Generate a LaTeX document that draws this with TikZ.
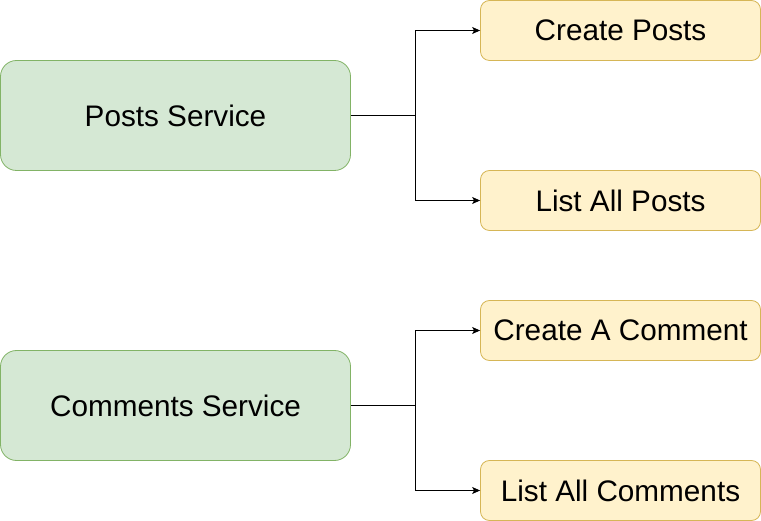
\documentclass[tikz,border=0pt]{standalone}
\usepackage{fontspec}
\setmainfont{Liberation Sans}
\usetikzlibrary{arrows.meta}
\definecolor{svcfill}{HTML}{D5E8D4}
\definecolor{svcline}{HTML}{82B366}
\definecolor{opfill}{HTML}{FFF2CC}
\definecolor{opline}{HTML}{D6B656}

\begin{document}
\begin{tikzpicture}
[x=1pt, y=-1pt, service/.style={draw=svcline, fill=svcfill, line width=0.8pt, rounded corners=16pt, minimum width=350pt, minimum height=110pt, inner sep=0pt, font=\fontsize{29.7}{34}\selectfont}, operation/.style={draw=opline, fill=opfill, line width=0.8pt, rounded corners=9pt, minimum width=280pt, minimum height=60pt, inner sep=0pt, font=\fontsize{29.7}{34}\selectfont}, link/.style={line width=0.9pt, -{Stealth[length=8pt, width=7pt, inset=2pt]}}]
    \useasboundingbox (0,0) rectangle (761,521);
    \node[service] (posts) at (175.5,115.5) {Posts Service};
    \node[service] (comments) at (175.5,405.5) {Comments Service};
    \node[operation] (createposts) at (620.5,30.5) {Create Posts};
    \node[operation] (listposts) at (620.5,200.5) {List All Posts};
    \node[operation] (createcomment) at (620.5,330.5) {Create A Comment};
    \node[operation] (listcomments) at (620.5,490.5) {List All Comments};
    \coordinate (postsfork) at (415.5,115.5);
    \coordinate (commentsfork) at (415.5,405.5);
    \draw[line width=0.9pt] (posts.east) -- (postsfork);
    \draw[link] (postsfork) |- (createposts.west);
    \draw[link] (postsfork) |- (listposts.west);
    \draw[line width=0.9pt] (comments.east) -- (commentsfork);
    \draw[link] (commentsfork) |- (createcomment.west);
    \draw[link] (commentsfork) |- (listcomments.west);
\end{tikzpicture}
\end{document}
